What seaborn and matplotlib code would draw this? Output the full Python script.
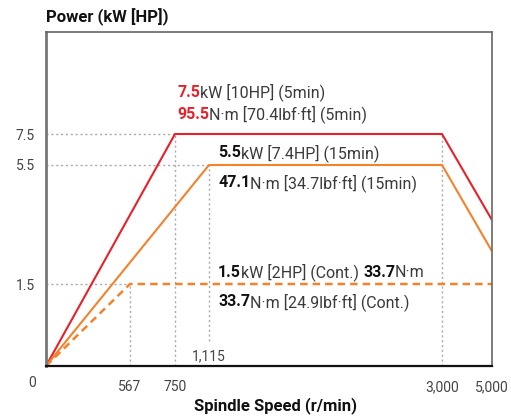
import numpy as np
import pandas as pd
import matplotlib
matplotlib.use("Agg")
import matplotlib.pyplot as plt
import seaborn as sns

# data
speed_5min = [0, 750, 3000, 5000]
power_5min = [0, 7.5, 7.5, 3.65]
speed_15min = [0, 1115, 3000, 5000]
power_15min = [0, 5.5, 5.5, 2.6]
speed_cont = [0, 567, 5000]
power_cont = [0, 1.5, 1.5]

x_ticks = [567, 750, 3000, 5000]
x_tick_labels = ["567", "750", "3,000", "5,000"]
y_ticks = [1.5, 5.5, 7.5]
y_tick_labels = ["1.5", "5.5", "7.5"]

# schematic (piecewise) axis scales
x_knots = [0, 567, 750, 1115, 3000, 5000]
x_pos = [0, 84, 129, 163, 396, 446]
y_knots = [0, 1.5, 5.5, 7.5, 10]
y_pos = [0, 82, 201, 232, 334]

RED = "#e8202a"
ORANGE = "#f5822a"
TXT = "#3a3a3a"
GRID = "#aaaaaa"

sns.set_style("white")
plt.rcParams["font.family"] = ["Roboto", "DejaVu Sans"]

fig = plt.figure(figsize=(5.11, 4.17), dpi=100)
ax = fig.add_axes([46 / 511, 1 - 366 / 417, 446 / 511, 334 / 417])

ax.set_xscale("function", functions=(lambda v: np.interp(v, x_knots, x_pos),
                                     lambda v: np.interp(v, x_pos, x_knots)))
ax.set_yscale("function", functions=(lambda v: np.interp(v, y_knots, y_pos),
                                     lambda v: np.interp(v, y_pos, y_knots)))
ax.set_xlim(0, 5000)
ax.set_ylim(0, 10)

# guide lines
ax.hlines([7.5, 5.5, 1.5], 0, [750, 1115, 567], colors=GRID, linestyles=(0, (1.5, 2)), lw=1)
ax.vlines([567, 750, 3000], 0, [1.5, 7.5, 7.5], colors=GRID, linestyles=(0, (1.5, 2)), lw=1)
ax.vlines([1115], 0.45, 5.5, colors=GRID, linestyles=(0, (1.5, 2)), lw=1)

df5 = pd.DataFrame({"speed": speed_5min, "power": power_5min})
df15 = pd.DataFrame({"speed": speed_15min, "power": power_15min})
dfc = pd.DataFrame({"speed": speed_cont, "power": power_cont})
sns.lineplot(data=df5, x="speed", y="power", ax=ax, color=RED, lw=1.5,
             sort=False, estimator=None)
sns.lineplot(data=df15, x="speed", y="power", ax=ax, color=ORANGE, lw=1.5,
             sort=False, estimator=None)
sns.lineplot(data=dfc, x="speed", y="power", ax=ax, color=ORANGE, lw=1.8,
             sort=False, estimator=None, linestyle=(0, (3, 2)))

# spines
for s in ["top", "right"]:
    ax.spines[s].set_color("#666666")
    ax.spines[s].set_linewidth(1.2)
ax.spines["left"].set_color("#777777")
ax.spines["left"].set_linewidth(2)
ax.spines["bottom"].set_color("#111111")
ax.spines["bottom"].set_linewidth(1.6)

ax.set_xticks(x_ticks)
ax.set_xticklabels(x_tick_labels)
ax.set_yticks(y_ticks)
ax.set_yticklabels(y_tick_labels)
ax.minorticks_off()
ax.tick_params(length=0, labelsize=10, labelcolor="#444444")
ax.tick_params(axis="x", pad=10)
ax.tick_params(axis="y", pad=8)
ax.set_xlabel("")
ax.set_ylabel("")

ax.annotate("0", xy=(0, 0), xycoords="axes fraction", xytext=(-14, -17),
            textcoords="offset pixels", ha="center", va="center",
            fontsize=10, color="#444444")
ax.text(1115, 0.03, "1,115", transform=ax.get_xaxis_transform(),
        ha="center", va="center", fontsize=10, color="#444444")


def rich(x, y, parts):
    s, w, c = parts[0]
    t = ax.text(x, y, s, transform=ax.transAxes, fontsize=11.5, fontweight=w,
                color=c, va="center", ha="left")
    for s, w, c in parts[1:]:
        t = ax.annotate(s, xy=(1, 0.5), xycoords=t, fontsize=11.5, fontweight=w,
                        color=c, va="center", ha="left")


rich(0.294, 0.82, [("7.5", "bold", RED), ("kW [10HP] (5min)", "normal", TXT)])
rich(0.294, 0.754, [("95.5", "bold", RED), ("N·m [70.4lbf·ft] (5min)", "normal", TXT)])
rich(0.386, 0.638, [("5.5", "bold", "#111111"), ("kW [7.4HP] (15min)", "normal", TXT)])
rich(0.386, 0.548, [("47.1", "bold", "#111111"), ("N·m [34.7lbf·ft] (15min)", "normal", TXT)])
rich(0.386, 0.281, [("1.5", "bold", "#111111"), ("kW [2HP] (Cont.) ", "normal", TXT),
                    ("33.7", "bold", "#111111"), ("N·m", "normal", TXT)])
rich(0.386, 0.192, [("33.7", "bold", "#111111"), ("N·m [24.9lbf·ft] (Cont.)", "normal", TXT)])

fig.text(46 / 511, 1 - 17 / 417, "Power (kW [HP])", fontsize=12, fontweight="bold",
         color="#111111", ha="left", va="center")
fig.text(275 / 511, 1 - 406 / 417, "Spindle Speed (r/min)", fontsize=12,
         fontweight="bold", color="#111111", ha="center", va="center")

fig.savefig("out.png", dpi=100)
